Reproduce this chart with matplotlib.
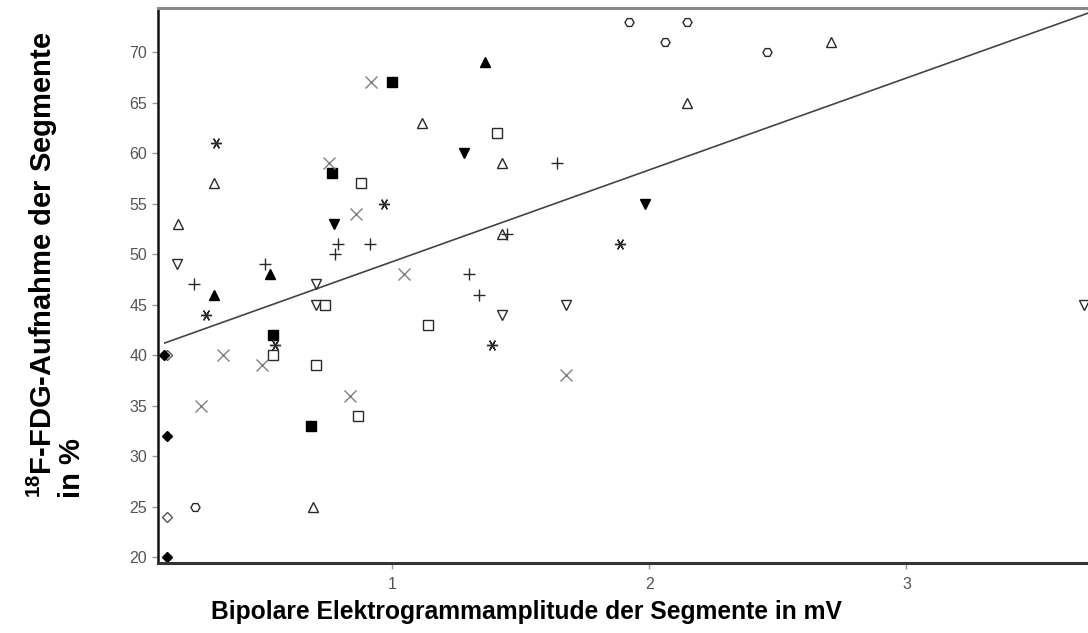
import numpy as np
import matplotlib.pyplot as plt

plt.rcParams['font.family'] = ['Liberation Sans', 'DejaVu Sans']
plt.rcParams['mathtext.fontset'] = 'custom'
plt.rcParams['mathtext.bf'] = 'Liberation Sans:bold'
plt.rcParams['mathtext.rm'] = 'Liberation Sans'

# Messwerte je Gruppe (x: Amplitude in mV, y: FDG-Aufnahme in %)
tri_open_x = [0.307, 0.167, 1.117, 2.149, 1.429, 1.429, 0.695, 2.708]
tri_open_y = [57, 53, 63, 65, 59, 52, 25, 71]
tri_fill_x = [0.309, 0.528, 1.361]
tri_fill_y = [46, 48, 69]
dtri_fill_x = [0.776, 1.28, 1.982]
dtri_fill_y = [53, 60, 55]
dtri_open_x = [0.166, 0.707, 0.707, 1.429, 1.678, 3.69]
dtri_open_y = [49, 47, 45, 44, 45, 45]
sq_fill_x = [1.0, 0.768, 0.537, 0.687]
sq_fill_y = [67, 58, 42, 33]
sq_open_x = [0.879, 0.741, 1.141, 0.538, 0.707, 0.869, 1.407]
sq_open_y = [57, 45, 43, 40, 39, 34, 62]
cross_x = [0.917, 0.756, 0.86, 1.047, 0.345, 0.495, 0.257, 0.838, 1.678]
cross_y = [67, 59, 54, 48, 40, 39, 35, 36, 38]
plus_x = [0.79, 0.916, 0.777, 0.508, 0.23, 1.641, 1.449, 1.3, 1.337]
plus_y = [51, 51, 50, 49, 47, 59, 52, 48, 46]
ast_x = [0.316, 0.968, 0.276, 0.547, 1.887, 1.389]
ast_y = [61, 55, 44, 41, 51, 41]
dia_fill_x = [0.114, 0.127, 0.127]
dia_fill_y = [40, 32, 20]
dia_open_x = [0.127, 0.127]
dia_open_y = [40, 24]
hex_x = [0.236, 1.92, 2.149, 2.061, 2.458]
hex_y = [25, 73, 73, 71, 70]

# Regressionsgerade (Endpunkte)
reg_x = [0.117, 3.71]
reg_y = [41.2, 73.9]

fig = plt.figure(figsize=(10.88, 6.33), dpi=100)
ax = fig.add_axes([0.145, 0.111, 0.856, 0.876])

dark = '#2a2a2a'
ax.plot(reg_x, reg_y, color='#444444', lw=1.2, zorder=1)

ax.plot(tri_open_x, tri_open_y, '^', ms=7, mfc='white', mec=dark, mew=1.0, ls='none')
ax.plot(tri_fill_x, tri_fill_y, '^', ms=7, mfc='black', mec='black', ls='none')
ax.plot(dtri_fill_x, dtri_fill_y, 'v', ms=7, mfc='black', mec='black', ls='none')
ax.plot(dtri_open_x, dtri_open_y, 'v', ms=7, mfc='white', mec=dark, mew=1.0, ls='none')
ax.plot(sq_fill_x, sq_fill_y, 's', ms=7.5, mfc='black', mec='black', ls='none')
ax.plot(sq_open_x, sq_open_y, 's', ms=7.5, mfc='white', mec=dark, mew=1.0, ls='none')
ax.plot(cross_x, cross_y, 'x', ms=9, mec='#808080', mew=1.0, ls='none')
ax.plot(plus_x, plus_y, '+', ms=9, mec=dark, mew=1.0, ls='none')
ax.plot(ast_x, ast_y, marker=(6, 2, 90), ms=8, mec=dark, mew=1.0, ls='none')
ax.plot(dia_open_x, dia_open_y, 'D', ms=5.5, mfc='white', mec='#555555', mew=1.0, ls='none')
ax.plot(dia_fill_x, dia_fill_y, 'D', ms=5.5, mfc='black', mec='black', ls='none')
ax.plot(hex_x, hex_y, 'H', ms=6.5, mfc='white', mec=dark, mew=1.0, ls='none')

ax.set_xlim(0.09, 3.71)
ax.set_ylim(19.44, 74.35)
ax.set_xticks([1, 2, 3])
ax.set_yticks(np.arange(20, 71, 5))
ax.tick_params(axis='both', colors='#999999', labelcolor='#555555',
               labelsize=11.5, length=4, width=1)
ax.tick_params(axis='x', pad=6)

ax.spines['left'].set_linewidth(1.8)
ax.spines['left'].set_color('#111111')
ax.spines['bottom'].set_linewidth(2.2)
ax.spines['bottom'].set_color('#333333')
ax.spines['top'].set_linewidth(2.2)
ax.spines['top'].set_color('#888888')
ax.spines['right'].set_visible(False)

fig.text(0.484, 0.033, 'Bipolare Elektrogrammamplitude der Segmente in mV',
         ha='center', va='center', fontsize=17.7, fontweight='bold')
fig.text(0.051, 0.581, r'$\mathbf{^{18}}$F-FDG-Aufnahme der Segmente' + '\nin %',
         rotation=90, ha='center', va='center', multialignment='left',
         fontsize=21, fontweight='bold', linespacing=0.9)

fig.savefig('out.png', dpi=100)
